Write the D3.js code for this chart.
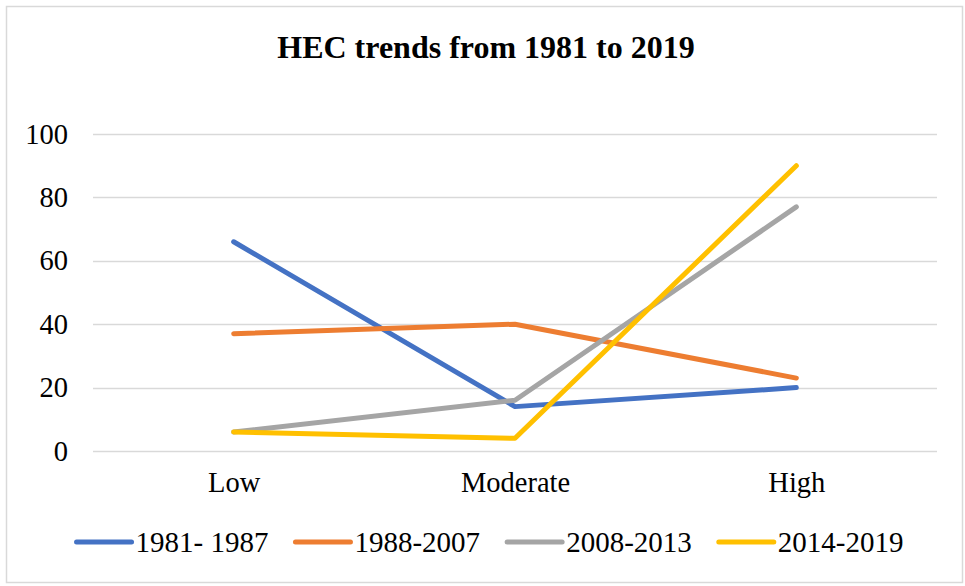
<!DOCTYPE html>
<html>
<head>
<meta charset="utf-8">
<script src="https://cdn.jsdelivr.net/npm/d3@7"></script>
<style>
  html, body { margin: 0; padding: 0; background: #fff; }
  svg { display: block; }
  text { font-family: "Liberation Serif", "Times New Roman", serif; fill: #000; }
</style>
</head>
<body>
<script>
const title = "HEC trends from 1981 to 2019";
const categories = ["Low", "Moderate", "High"];
const seriesNames = ["1981- 1987", "1988-2007", "2008-2013", "2014-2019"];
const s1981_1987 = [66, 14, 20];
const s1988_2007 = [37, 40, 23];
const s2008_2013 = [6, 16, 77];
const s2014_2019 = [6, 4, 90];
const yTicks = [0, 20, 40, 60, 80, 100];
const colors = ["#4472C4", "#ED7D31", "#A5A5A5", "#FFC000"];

const seriesValues = [s1981_1987, s1988_2007, s2008_2013, s2014_2019];

const W = 965, H = 586;
const svg = d3.select("body").append("svg").attr("width", W).attr("height", H);

// chart border
svg.append("rect").attr("x", 6.5).attr("y", 6.5).attr("width", 956).attr("height", 576)
  .attr("fill", "#fff").attr("stroke", "#D9D9D9").attr("stroke-width", 1.5);

// title
svg.append("text").attr("x", 486).attr("y", 58).attr("text-anchor", "middle")
  .attr("font-size", 32).attr("font-weight", "bold").text(title);

const x = d3.scalePoint().domain(categories).range([93, 937]).padding(0.5);
const y = d3.scaleLinear().domain([0, 100]).range([451, 134]);

// gridlines
svg.append("g").selectAll("line").data(yTicks).join("line")
  .attr("x1", 93).attr("x2", 937)
  .attr("y1", d => Math.round(y(d)) + 0.5).attr("y2", d => Math.round(y(d)) + 0.5)
  .attr("stroke", "#D9D9D9").attr("stroke-width", 1.5);

// y axis labels
const yAxis = d3.axisLeft(y).tickValues(yTicks).tickSize(0).tickPadding(0);
const gy = svg.append("g").attr("transform", "translate(68,0)").call(yAxis);
gy.select(".domain").remove();
gy.selectAll("text").attr("font-size", 28.5).attr("font-family", "Liberation Serif, serif").attr("fill", "#000");

// x axis labels
const xAxis = d3.axisBottom(x).tickSize(0).tickPadding(0);
const gx = svg.append("g").attr("transform", "translate(0,472)").call(xAxis);
gx.select(".domain").remove();
gx.selectAll("text").attr("font-size", 28.5).attr("font-family", "Liberation Serif, serif").attr("fill", "#000");

// lines
const line = d3.line().x((d, i) => x(categories[i])).y(d => y(d));
svg.append("g").selectAll("path").data(seriesValues).join("path")
  .attr("d", d => line(d))
  .attr("fill", "none")
  .attr("stroke", (d, i) => colors[i])
  .attr("stroke-width", 5)
  .attr("stroke-linecap", "round")
  .attr("stroke-linejoin", "round");

// legend
const legend = svg.append("g");
const lineLen = 55, gapText = 4, gapItem = 27, legendY = 542, legendCenter = 490;
const items = legend.selectAll("g").data(seriesNames).join("g");
items.append("line").attr("x1", 0).attr("x2", lineLen).attr("y1", 0).attr("y2", 0)
  .attr("stroke", (d, i) => colors[i]).attr("stroke-width", 5).attr("stroke-linecap", "round");
items.append("text").attr("x", lineLen + gapText).attr("y", 0).attr("dy", "0.35em")
  .attr("font-size", 29).text(d => d);
let widths = [];
items.each(function() { widths.push(lineLen + gapText + this.querySelector("text").getComputedTextLength()); });
const total = d3.sum(widths) + gapItem * (widths.length - 1);
let cx = legendCenter - total / 2;
items.attr("transform", (d, i) => {
  const t = `translate(${cx},${legendY})`;
  cx += widths[i] + gapItem;
  return t;
});
</script>
</body>
</html>
